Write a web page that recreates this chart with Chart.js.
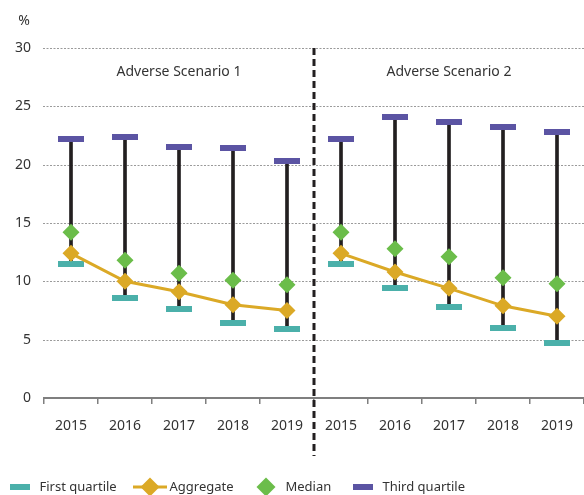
<!DOCTYPE html>
<html>
<head>
<meta charset="utf-8">
<script src="https://cdn.jsdelivr.net/npm/chart.js@4/dist/chart.umd.min.js"></script>
<style>
  html, body { margin: 0; padding: 0; background: #ffffff; }
  #wrap { width: 584px; height: 495px; position: relative; }
</style>
</head>
<body>
<div id="wrap"><canvas id="c" width="584" height="495"></canvas></div>
<script>
// Categories: two scenario blocks of five years each
const years = ['2015', '2016', '2017', '2018', '2019', '2015', '2016', '2017', '2018', '2019'];
const scenarioNames = ['Adverse Scenario 1', 'Adverse Scenario 2'];

// Series values (%)
const firstQuartile = [11.5, 8.6, 7.6, 6.4, 5.9, 11.5, 9.4, 7.8, 6.0, 4.7];
const aggregate     = [12.4, 10.0, 9.1, 8.0, 7.5, 12.4, 10.8, 9.4, 7.9, 7.0];
const median        = [14.2, 11.8, 10.7, 10.1, 9.7, 14.2, 12.8, 12.1, 10.3, 9.8];
const thirdQuartile = [22.2, 22.4, 21.5, 21.4, 20.3, 22.2, 24.1, 23.7, 23.2, 22.8];

// Y-axis ticks
const yTicks = [0, 5, 10, 15, 20, 25, 30];

const FONT = '"Noto Sans", "Open Sans", sans-serif';
const TEXT = '#333333';
const COL = {
  first: '#4bb0aa',
  aggregate: '#dba926',
  median: '#6bbd4a',
  third: '#5b54a3',
  whisker: '#231f20'
};

// Flat horizontal dash used as the quartile marker
function dashMarker(w, h, color) {
  const c = document.createElement('canvas');
  c.width = w; c.height = h;
  const g = c.getContext('2d');
  g.fillStyle = color;
  g.fillRect(0, 0, w, h);
  return c;
}

// Whisker ranges from first to third quartile
const whiskers = firstQuartile.map((q1, i) => [q1, thirdQuartile[i]]);

const overlay = {
  id: 'overlay',
  beforeDatasetsDraw(chart) {
    // Dotted horizontal gridlines
    const ctx = chart.ctx;
    const y = chart.scales.y;
    const area = chart.chartArea;
    ctx.save();
    ctx.strokeStyle = '#9a9a9a';
    ctx.lineWidth = 1;
    ctx.setLineDash([2, 1.5]);
    yTicks.forEach(v => {
      if (v === 0) return;
      const py = Math.round(y.getPixelForValue(v)) + 0.5;
      ctx.beginPath();
      ctx.moveTo(area.left - 1, py);
      ctx.lineTo(chart.width, py);
      ctx.stroke();
    });
    ctx.restore();
  },
  afterDraw(chart) {
    const ctx = chart.ctx;
    const x = chart.scales.x, y = chart.scales.y;
    const area = chart.chartArea;
    ctx.save();

    // Dashed separator between the two scenarios
    const sepX = (x.getPixelForValue(4) + x.getPixelForValue(5)) / 2;
    ctx.strokeStyle = '#231f20';
    ctx.lineWidth = 3;
    ctx.setLineDash([7, 4]);
    ctx.beginPath();
    ctx.moveTo(sepX, area.top);
    ctx.lineTo(sepX, 456);
    ctx.stroke();
    ctx.setLineDash([]);

    // Scenario headings
    ctx.fillStyle = TEXT;
    ctx.font = '14px ' + FONT;
    ctx.textAlign = 'center';
    ctx.textBaseline = 'middle';
    const headY = y.getPixelForValue(27.9);
    ctx.fillText(scenarioNames[0], x.getPixelForValue(2), headY);
    ctx.fillText(scenarioNames[1], x.getPixelForValue(7), headY);

    // Unit label above the y-axis
    ctx.textAlign = 'right';
    ctx.fillText('%', y.right - 14, 21);

    // Legend row (marker centre x for each entry)
    const items = [
      { text: 'First quartile', kind: 'dash', color: COL.first, cx: 20 },
      { text: 'Aggregate', kind: 'lineDiamond', color: COL.aggregate, cx: 150 },
      { text: 'Median', kind: 'diamond', color: COL.median, cx: 266 },
      { text: 'Third quartile', kind: 'dash', color: COL.third, cx: 363 }
    ];
    ctx.font = '13px ' + FONT;
    ctx.textAlign = 'left';
    const ly = 487;
    items.forEach(it => {
      const cx = it.cx;
      ctx.fillStyle = it.color;
      ctx.strokeStyle = it.color;
      if (it.kind === 'dash') {
        ctx.fillRect(cx - 10, ly - 3, 20, 6);
      } else {
        if (it.kind === 'lineDiamond') {
          ctx.lineWidth = 3;
          ctx.beginPath();
          ctx.moveTo(cx - 17, ly);
          ctx.lineTo(cx + 17, ly);
          ctx.stroke();
        }
        const r = 9.5;
        ctx.beginPath();
        ctx.moveTo(cx - r, ly);
        ctx.lineTo(cx, ly - r);
        ctx.lineTo(cx + r, ly);
        ctx.lineTo(cx, ly + r);
        ctx.closePath();
        ctx.fill();
      }
      ctx.fillStyle = TEXT;
      ctx.fillText(it.text, cx + 19.5, ly);
    });

    ctx.restore();
  }
};

new Chart(document.getElementById('c'), {
  type: 'bar',
  data: {
    labels: years,
    datasets: [
      {
        type: 'line',
        label: 'Median',
        data: median,
        showLine: false,
        pointStyle: 'rectRot',
        pointRadius: 8.5,
        pointHoverRadius: 8.5,
        pointBackgroundColor: COL.median,
        pointBorderWidth: 0,
        order: 0
      },
      {
        type: 'line',
        label: 'Aggregate',
        data: aggregate,
        borderColor: COL.aggregate,
        borderWidth: 3,
        pointStyle: 'rectRot',
        pointRadius: 8.5,
        pointHoverRadius: 8.5,
        pointBackgroundColor: COL.aggregate,
        pointBorderWidth: 0,
        segment: {
          borderColor: c => (c.p0DataIndex === 4 ? 'rgba(0,0,0,0)' : COL.aggregate)
        },
        order: 1
      },
      {
        type: 'line',
        label: 'First quartile',
        data: firstQuartile,
        showLine: false,
        pointStyle: dashMarker(26, 6, COL.first),
        order: 2
      },
      {
        type: 'line',
        label: 'Third quartile',
        data: thirdQuartile,
        showLine: false,
        pointStyle: dashMarker(26, 6, COL.third),
        order: 3
      },
      {
        type: 'bar',
        label: 'Range',
        data: whiskers,
        backgroundColor: COL.whisker,
        barThickness: 3,
        order: 4
      }
    ]
  },
  options: {
    responsive: false,
    devicePixelRatio: 1,
    animation: false,
    layout: { autoPadding: false, padding: { top: 48, left: 14, right: -3, bottom: 64 } },
    plugins: {
      legend: { display: false },
      tooltip: { enabled: false }
    },
    scales: {
      x: {
        offset: true,
        grid: {
          display: true,
          offset: true,
          drawOnChartArea: false,
          drawTicks: true,
          tickLength: 6,
          color: '#7f7f7f',
          lineWidth: 1.5
        },
        border: { display: true, color: '#7f7f7f', width: 2 },
        ticks: {
          color: TEXT,
          font: { family: FONT, size: 14 },
          padding: 14,
          maxRotation: 0,
          autoSkip: false
        },
        afterFit(scale) {
          scale.height = 33;
          scale.paddingLeft = 0;
          scale.paddingRight = 0;
        }
      },
      y: {
        min: 0,
        max: 30,
        afterBuildTicks(scale) { scale.ticks = yTicks.map(v => ({ value: v })); },
        grid: { display: false, drawTicks: false },
        border: { display: false },
        ticks: {
          color: TEXT,
          font: { family: FONT, size: 14 },
          padding: 13
        },
        afterFit(scale) {
          scale.width = 30;
          scale.paddingTop = 0;
          scale.paddingBottom = 0;
        }
      }
    }
  },
  plugins: [overlay]
});
</script>
</body>
</html>
